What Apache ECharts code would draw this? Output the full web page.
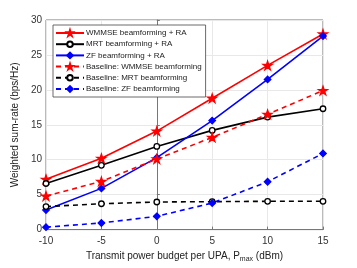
<!DOCTYPE html>
<html><head><meta charset="utf-8">
<script src="https://cdn.jsdelivr.net/npm/echarts@6/dist/echarts.min.js"></script>
<style>html,body{margin:0;padding:0;background:#fff}#c{width:357px;height:268px}</style>
</head><body><div id="c"></div>
<script>
var xValues = [-10, -5, 0, 5, 10, 15];
var wmmseRA = [7.2, 10.2, 14.1, 18.8, 23.5, 28.0];
var mrtRA = [6.6, 9.2, 11.9, 14.2, 16.1, 17.3];
var zfRA = [2.8, 5.9, 10.3, 15.6, 21.5, 27.7];
var baseWmmse = [4.8, 6.9, 10.1, 13.2, 16.5, 19.9];
var baseMrt = [3.3, 3.7, 3.95, 4.0, 4.05, 4.05];
var baseZf = [0.35, 0.95, 1.9, 3.8, 6.85, 10.9];
var names = ['WMMSE beamforming + RA','MRT beamforming + RA','ZF beamforming + RA','Baseline: WMMSE beamforming','Baseline: MRT beamforming','Baseline: ZF beamforming'];
var yTicks = [0,5,10,15,20,25,30];
var xTicks = [-10,-5,0,5,10,15];

var star = 'path://M100,0 L122.45,69.1 L195.1,69.1 L136.3,111.8 L158.8,180.9 L100,138.2 L41.2,180.9 L63.7,111.8 L4.9,69.1 L77.55,69.1 Z';
function pairs(v){return xValues.map(function(x,i){return [x,v[i]];});}
function mk(name, data, color, symbol, size, dashed, fill){
  return {name:name, type:'line', data:pairs(data), symbol:symbol, symbolSize:size, symbolKeepAspect:true,
    showAllSymbol:true,
    lineStyle:{color:color, width:1.6, type: dashed ? [5,4] : 'solid'},
    itemStyle:{color: fill, borderColor:color, borderWidth:1.3},
    emphasis:{disabled:true}, animation:false, z: 3};
}
var chart = echarts.init(document.getElementById('c'), null, {renderer:'canvas'});
chart.setOption({
  animation:false,
  grid:{left:46, right:34, top:20, bottom:31, show:true, borderColor:'#777', borderWidth:1},
  legend:{orient:'vertical', left:53, top:25, itemWidth:28, itemHeight:7, itemGap:3.2,
    padding:[4,4,4,2], borderColor:'#444', borderWidth:0.8, backgroundColor:'#fff',
    textStyle:{fontSize:8, color:'#222', fontFamily:'Liberation Sans', padding:[0,0,0,-3]},
    data:names, z:10},
  xAxis:{type:'value', min:-10, max:15, interval:5,
    name:'{a|Transmit power budget per UPA, P}{s|max}{a| (dBm)}', nameLocation:'middle', nameGap:20,
    nameTextStyle:{rich:{a:{fontSize:10, color:'#222', fontFamily:'Liberation Sans'}, s:{fontSize:7, color:'#222', fontFamily:'Liberation Sans', verticalAlign:'bottom', padding:[6,0,0,0]}}},
    axisLine:{show:true, lineStyle:{color:'#777'}}, axisTick:{inside:true, length:3, lineStyle:{color:'#777'}},
    axisLabel:{fontSize:10, color:'#333', fontFamily:'Liberation Sans', margin:7},
    splitLine:{show:true, lineStyle:{color:'#e8e8e8'}}},
  yAxis:{type:'value', min:0, max:30, interval:5,
    name:'Weighted sum-rate (bps/Hz)', nameLocation:'middle', nameGap:23,
    nameTextStyle:{fontSize:10, color:'#222', fontFamily:'Liberation Sans'},
    axisLine:{show:true, lineStyle:{color:'#777'}}, axisTick:{inside:true, length:3, lineStyle:{color:'#777'}},
    axisLabel:{fontSize:10, color:'#333', fontFamily:'Liberation Sans', margin:4},
    splitLine:{show:true, lineStyle:{color:'#e8e8e8'}}},
  series:[
    mk(names[0], wmmseRA, '#ff0000', star, 9, false, '#ff0000'),
    mk(names[1], mrtRA, '#000000', 'circle', 5.5, false, '#ffffff'),
    mk(names[2], zfRA, '#0000ff', 'diamond', 6.5, false, '#0000ff'),
    mk(names[3], baseWmmse, '#ff0000', star, 9, true, '#ff0000'),
    mk(names[4], baseMrt, '#000000', 'circle', 5.5, true, '#ffffff'),
    mk(names[5], baseZf, '#0000ff', 'diamond', 6.5, true, '#0000ff')
  ]
});
</script></body></html>
